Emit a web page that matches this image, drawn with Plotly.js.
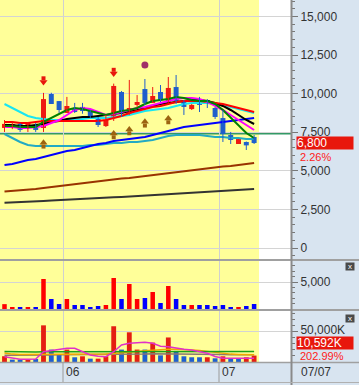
<!DOCTYPE html>
<html><head><meta charset="utf-8">
<script src="https://cdn.plot.ly/plotly-3.0.1.min.js"></script>
<style>html,body{margin:0;padding:0;background:#fff;overflow:hidden}#chart{width:359px;height:385px}</style>
</head><body><div id="chart"></div>
<script>
// ---- data ----
const cats = [0,1,2,3,4,5,6,7,8,9,10,11,12,13,14,15,16,17,18,19,20,21,22,23,24,25,26,27,28,29,30,31,32];
const monthStartIdx = [8, 28];
const monthLabels = ['06', '07'];
const dateLabel = '07/07';

const openP  = [7780,7840,8040,7840,7900,7780,9980,9520,8750,9070,9140,8880,8490,7900,8490,10110,8620,9270,10300,9400,10110,9460,10430,9460,9000,9590,9590,9070,8420,7320,6740,6870,7190];
const highP  = [8290,8200,8100,8160,8100,10050,10060,9520,9790,9400,9400,8950,8490,8620,10650,10170,10890,9910,10950,10430,10560,11080,11210,9600,9330,9790,9650,9140,8940,7520,7060,6900,7320];
const lowP   = [7520,7700,7520,7520,7520,7520,9330,8750,8750,8750,8700,8420,7840,7840,8230,8490,8620,9140,9270,9400,9460,9400,9330,8620,8940,8810,9070,8360,6870,6740,6740,6350,6740];
const closeP = [8040,8030,7650,8100,7650,9650,9330,8940,9200,8810,8880,8490,7970,8300,10500,8750,9070,9460,9400,9850,9590,10370,9460,9140,9270,9270,9330,8490,7390,7000,7060,6650,6800];

const maGreen   = [7906,7906,7841,7841,7841,8165,8424,8683,8942,9072,9007,8878,8748,8618,8748,8878,8942,9072,9331,9526,9590,9655,9785,9720,9590,9526,9526,9331,8942,8424,7906,7452,7128];
const maMagenta = [7841,7841,7776,7776,7841,7906,8100,8294,8618,8942,9072,9007,8813,8618,8683,8813,8942,9072,9137,9266,9396,9526,9655,9720,9720,9655,9461,9202,8942,8618,8294,7970,7646];
const maBlack   = [7970,7970,7906,7906,7970,8035,8165,8230,8359,8424,8489,8489,8554,8618,8683,8748,8878,8942,9072,9202,9331,9396,9461,9526,9590,9590,9526,9396,9202,8942,8618,8294,8035];
const maRed     = [8165,8165,8100,8100,8165,8230,8230,8230,8230,8230,8230,8230,8230,8294,8424,8554,8748,8878,9007,9137,9202,9331,9461,9526,9526,9526,9461,9396,9331,9202,9072,8942,8813];
const maCyan    = [9331,9072,8813,8554,8424,8359,8294,8294,8294,8294,8359,8424,8424,8424,8489,8554,8618,8748,8878,8942,9007,9072,9202,9331,9396,9396,9396,9331,9266,9137,9007,8878,8748];
const maBlue    = [5378,5443,5573,5702,5767,5897,6026,6156,6286,6350,6480,6610,6739,6804,6934,6998,7063,7128,7193,7322,7452,7582,7711,7841,7906,7970,8035,8100,8165,8230,8294,8359,8424];
const maTeal    = [7387,7128,6869,6674,6610,6610,6610,6610,6610,6610,6610,6674,6674,6739,6804,6804,6869,6869,6934,6998,7128,7258,7322,7322,7322,7322,7258,7193,7193,7128,7128,7063,7063];
const maBrown   = [3661,3694,3726,3758,3823,3888,3953,4018,4082,4147,4212,4277,4342,4406,4471,4504,4536,4601,4666,4730,4795,4860,4925,4990,5054,5119,5184,5249,5281,5314,5378,5443,5508];
const maDark    = [2935,2948,2981,3000,3013,3046,3078,3110,3130,3156,3175,3208,3240,3259,3285,3305,3337,3370,3389,3415,3434,3467,3499,3532,3564,3596,3629,3661,3694,3726,3758,3791,3823];
const refLevel = 7420;

const sellIdx = [5, 14];          const sellPrice = [10750, 11300];
const buyIdx  = [5, 14, 16, 18, 21]; const buyPrice = [6817, 7420, 7679, 8178, 8392];
const dotIdx  = [18];             const dotPrice = [11860];

const volume = [900,370,370,370,370,5560,1850,930,1850,740,740,370,560,740,5740,1850,4630,1850,2040,3150,1110,4260,1850,740,740,740,740,560,740,370,370,560,930];

const tradeValue = [9500,3900,3900,3900,5000,60500,20500,12200,20500,7800,9400,5500,5500,9400,59000,20500,49000,20500,20500,32000,11000,40500,18300,9400,7800,7800,7800,6100,9400,6100,6100,7800,10592];
const tradeValueUp = [1,0,0,1,0,1,0,0,1,0,1,0,1,1,1,0,1,1,0,1,0,1,0,0,0,0,1,0,1,0,0,1,1];
const tvMagenta = [8750,6100,4400,4400,5000,17000,19000,21000,22600,22600,17000,11500,9500,8750,17000,28000,30800,32000,32500,30800,26000,25300,22600,21000,19800,17000,14300,9000,6100,6100,6100,6100,6100];
const tvOrange  = [15000,13000,12500,12500,12000,12000,12500,13000,13000,13000,13000,13000,13000,13000,14000,15500,16500,17500,18500,19500,20500,21000,21000,21000,20000,19000,17500,15500,14000,13000,12500,12000,12000];
const tvGray    = [11000,11000,10500,10500,10500,11000,11500,12000,12000,12000,12000,12000,12000,12000,12500,13000,13000,13000,13000,13500,13500,13500,13500,13500,13500,13000,13000,12500,12500,12000,12000,12000,12000];
const tvGreen   = [17500,17000,16500,16500,16500,17000,17000,17000,17000,17000,17000,17000,17000,17000,17000,17500,17500,17500,17500,17500,17500,17500,17500,17500,17500,17500,17500,17500,17500,17500,17500,17500,17500];

const priceLabel = '6,800', changeLabel = '2.26%';
const valueLabel = '10,592K', ratioLabel = '202.99%';
const volTick = [5000], valTick = [50000], valTickText = ['50,000K'];

// ---- styles ----
const RED = '#ee1a12', BLUE = '#1f5fcc', FONT = 'Liberation Sans, Arial, sans-serif';
const W = 359, H = 385, PX = 291;

const up = cats.map(i => closeP[i] >= openP[i]);
function wick(sel){
  const x=[], y=[];
  cats.forEach(i => { if (up[i] === sel){ x.push(i,i,null); y.push(lowP[i],highP[i],null);} });
  return {x, y};
}
const traces = [];
function ma(vals, color, w){ traces.push({type:'scatter', mode:'lines', x:cats, y:vals, line:{color, width:w||2}, hoverinfo:'skip'}); }
ma(maDark,'#333333'); ma(maBrown,'#993300'); ma(maTeal,'#22aac4'); ma(maBlue,'#0000ff');
ma(maCyan,'#19e6f2'); ma(maBlack,'#000000'); ma(maRed,'#ff0000'); ma(maMagenta,'#ff00ff'); ma(maGreen,'#008000');

const wr = wick(true), wb = wick(false);
traces.push({type:'scatter', mode:'lines', x:wr.x, y:wr.y, line:{color:RED, width:1}, hoverinfo:'skip'});
traces.push({type:'scatter', mode:'lines', x:wb.x, y:wb.y, line:{color:BLUE, width:1}, hoverinfo:'skip'});
traces.push({type:'bar', x:cats, y:cats.map(i=>Math.max(Math.abs(closeP[i]-openP[i]),70)),
  base:cats.map(i=>Math.min(closeP[i],openP[i])), width:0.64,
  marker:{color:cats.map(i=>up[i]?RED:BLUE), line:{width:0}}, hoverinfo:'skip'});

// signals
traces.push({type:'scatter', mode:'markers', x:sellIdx, y:sellPrice.map(p=>p+245), marker:{symbol:'square', size:4, color:'#e8170c'}, hoverinfo:'skip'});
traces.push({type:'scatter', mode:'markers', x:sellIdx, y:sellPrice, marker:{symbol:'triangle-down', size:7, color:'#e8170c'}, hoverinfo:'skip'});
traces.push({type:'scatter', mode:'markers', x:buyIdx, y:buyPrice.map(p=>p-245), marker:{symbol:'square', size:4, color:'#9c6410'}, hoverinfo:'skip'});
traces.push({type:'scatter', mode:'markers', x:buyIdx, y:buyPrice, marker:{symbol:'triangle-up', size:7, color:'#9c6410'}, hoverinfo:'skip'});
traces.push({type:'scatter', mode:'markers', x:dotIdx, y:dotPrice, marker:{symbol:'circle', size:7, color:'#a03068'}, hoverinfo:'skip'});

// volume
traces.push({type:'bar', x:cats, y:volume, yaxis:'y2', width:0.58, marker:{color:cats.map(i=>up[i]?'#ff0000':'#0000ff'), line:{width:0}}, hoverinfo:'skip'});
// trade value
traces.push({type:'bar', x:cats, y:tradeValue, yaxis:'y3', width:0.62, marker:{color:tradeValueUp.map(u=>u?'#e41e12':'#1f5fd0'), line:{width:0}}, hoverinfo:'skip'});
function tv(vals,color){ traces.push({type:'scatter', mode:'lines', x:cats, y:vals, yaxis:'y3', line:{color, width:1.5}, hoverinfo:'skip'}); }
tv(tvGray,'#8a7a70'); tv(tvOrange,'#f0a800'); tv(tvGreen,'#1aa01a'); tv(tvMagenta,'#e030c8');

const xr = [-0.577, 36.73];
const yellowEnd = cats[cats.length-1] + 0.63;
const tickF = {family:FONT, size:12, color:'#333333'};
function yax(domain, range, extra){
  return Object.assign({domain, range, side:'right', anchor:'x', fixedrange:true, showline:false, zeroline:false,
    showgrid:true, gridcolor:'#d4d4d4', gridwidth:1, ticks:'outside', ticklen:6, tickwidth:1, tickcolor:'#777777',
    tickfont:tickF}, extra);
}
const shapes = [];
['y','y2','y3'].forEach(r => shapes.push({type:'rect', xref:'x', yref:r+' domain', x0:xr[0], x1:yellowEnd, y0:0, y1:1, fillcolor:'#ffff99', line:{width:0}, layer:'below'}));
shapes.push({type:'line', xref:'x', yref:'y', x0:xr[0], x1:xr[1], y0:refLevel, y1:refLevel, line:{color:'#339966', width:2}, layer:'below'});
shapes.push({type:'rect', xref:'paper', yref:'paper', x0:PX/W, x1:1, y0:0, y1:1, fillcolor:'#d8e4f0', line:{width:0}, layer:'below'});
shapes.push({type:'rect', xref:'paper', yref:'paper', x0:0, x1:1, y0:0, y1:23/H, fillcolor:'#d8e4f0', line:{width:0}, layer:'below'});
monthStartIdx.forEach(i => shapes.push({type:'line', xref:'x', yref:'paper', x0:i-0.5, x1:i-0.5, y0:3/H, y1:23/H, line:{color:'#9a9a9a', width:1}}));
[[260,2],[310,2],[362.5,1.5]].forEach(([py,w]) => shapes.push({type:'line', xref:'paper', yref:'paper', x0:0, x1:1, y0:1-py/H, y1:1-py/H, line:{color:'#a0a0a0', width:w}}));
shapes.push({type:'line', xref:'paper', yref:'paper', x0:(PX+0.5)/W, x1:(PX+0.5)/W, y0:0, y1:1, line:{color:'#8a8a8a', width:2}});
shapes.push({type:'line', xref:'paper', yref:'paper', x0:0, x1:1, y0:2.5/H, y1:2.5/H, line:{color:'#b0b0b0', width:1}});

const annotations = [];
monthStartIdx.forEach((i,k) => annotations.push({xref:'x', yref:'paper', x:i-0.5, y:1-371.5/H, xanchor:'left', yanchor:'middle', xshift:1, text:monthLabels[k], showarrow:false, font:tickF}));
annotations.push({xref:'paper', yref:'paper', x:299/W, y:1-371.5/H, xanchor:'left', yanchor:'middle', text:dateLabel, showarrow:false, font:tickF});
annotations.push({xref:'paper', yref:'y', x:296/W, y:closeP[closeP.length-1], xanchor:'left', yanchor:'middle', text:priceLabel, showarrow:false, bgcolor:'#e8170c', width:56, height:12, align:'left', borderpad:0, font:{family:FONT, size:12, color:'#ffffff'}});
annotations.push({xref:'paper', yref:'y', x:298/W, y:closeP[closeP.length-1], yshift:-13.5, xanchor:'left', yanchor:'middle', text:changeLabel, showarrow:false, font:{family:FONT, size:11, color:'#ff1a1a'}});
annotations.push({xref:'paper', yref:'paper', x:296/W, y:1-343/H, xanchor:'left', yanchor:'middle', text:valueLabel, showarrow:false, bgcolor:'#e8170c', width:56, height:12, align:'left', borderpad:0, font:{family:FONT, size:12, color:'#ffffff'}});
annotations.push({xref:'paper', yref:'paper', x:298/W, y:1-356/H, xanchor:'left', yanchor:'middle', text:ratioLabel, showarrow:false, font:{family:FONT, size:11, color:'#ff1a1a'}});
[266.5, 318].forEach(py => annotations.push({xref:'paper', yref:'paper', x:349.5/W, y:1-py/H, xanchor:'center', yanchor:'middle', text:'x', showarrow:false, bgcolor:'#4a4a4a', width:8, height:7, borderpad:0, font:{family:FONT, size:8, color:'#ffffff'}}));

const layout = {
  width:W, height:H, margin:{l:0,r:0,t:0,b:0}, paper_bgcolor:'#ffffff', plot_bgcolor:'#ffffff',
  showlegend:false, barmode:'overlay', font:{family:FONT, size:12, color:'#333333'},
  xaxis:{domain:[0, PX/W], range:xr, tickvals:monthStartIdx.map(i=>i-0.5), showticklabels:false, ticks:'',
    showgrid:true, gridcolor:'#d0d0d0', gridwidth:1, zeroline:false, showline:false, anchor:'y3', fixedrange:true},
  yaxis: yax([1-259/H, 1], [-713, 16069], {dtick:2500, tick0:0, tickformat:',d',
    minor:{tickmode:'linear', tick0:0, dtick:500, ticks:'outside', ticklen:3, tickwidth:1, tickcolor:'#777777', showgrid:false}}),
  yaxis2: yax([1-309/H, 1-261/H], [0, 8889], {tickmode:'array', tickvals:volTick, tickformat:',d',
    minor:{tickmode:'linear', tick0:0, dtick:1000, ticks:'outside', ticklen:3, tickwidth:1, tickcolor:'#777777', showgrid:false}}),
  yaxis3: yax([1-362/H, 1-311/H], [0, 84160], {tickmode:'array', tickvals:valTick, ticktext:valTickText, ticklabelshift:-2,
    minor:{tickmode:'linear', tick0:0, dtick:10000, ticks:'outside', ticklen:3, tickwidth:1, tickcolor:'#777777', showgrid:false}}),
  shapes, annotations
};
Plotly.newPlot('chart', traces, layout, {staticPlot:true, displayModeBar:false});
</script></body></html>
